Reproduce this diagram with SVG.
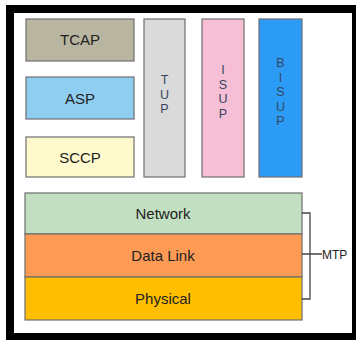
<svg xmlns="http://www.w3.org/2000/svg" width="356" height="340" viewBox="0 0 356 340">
<style>
.box{stroke:#6e6e6e;stroke-width:1.2}
.t{font-family:"Liberation Sans",Arial,sans-serif;font-size:15px;fill:#222;text-anchor:middle}
.v{font-family:"Liberation Sans",Arial,sans-serif;font-size:12.5px;fill:#34475f;text-anchor:middle}
.con{stroke:#444;stroke-width:1.3;fill:none}
</style>
<rect x="0" y="0" width="356" height="340" fill="#fff"/>
<rect x="10" y="9" width="346" height="328" fill="#fff" stroke="#000" stroke-width="8"/>
<g id="tcap"><rect class="box" x="26" y="19" width="108" height="42" fill="#b8b5a1"/><text class="t" x="80" y="45">TCAP</text></g>
<g id="asp"><rect class="box" x="26" y="77" width="108" height="42" fill="#8fcdf1"/><text class="t" x="80" y="104">ASP</text></g>
<g id="sccp"><rect class="box" x="26" y="137" width="108" height="40" fill="#fffacd"/><text class="t" x="80" y="163">SCCP</text></g>
<g id="tup"><rect class="box" x="144" y="19" width="41" height="158" fill="#dadada"/>
<text class="v" x="164.5" y="84">T</text><text class="v" x="164.5" y="98.5">U</text><text class="v" x="164.5" y="113">P</text></g>
<g id="isup"><rect class="box" x="202" y="19" width="42" height="158" fill="#f6bfd6"/>
<text class="v" x="223" y="74">I</text><text class="v" x="223" y="88.5">S</text><text class="v" x="223" y="103">U</text><text class="v" x="223" y="117.5">P</text></g>
<g id="bisup"><rect class="box" x="259" y="19" width="43" height="158" fill="#2b9bf6"/>
<text class="v" x="280.5" y="67">B</text><text class="v" x="280.5" y="81.5">I</text><text class="v" x="280.5" y="96">S</text><text class="v" x="280.5" y="110.5">U</text><text class="v" x="280.5" y="125">P</text></g>
<g id="network"><rect class="box" x="25" y="193" width="277" height="41" fill="#c2dfc2"/><text class="t" x="163" y="219">Network</text></g>
<g id="datalink"><rect class="box" x="25" y="234" width="277" height="43" fill="#fd9b55"/><text class="t" x="163" y="261">Data Link</text></g>
<g id="physical"><rect class="box" x="25" y="277" width="277" height="43" fill="#ffbf00"/><text class="t" x="163" y="304">Physical</text></g>
<g id="connectors">
<path class="con" d="M302 213 H310 V299 H302 M302 254 H322"/>
</g>
<g id="mtp"><text x="322" y="259" style="font-family:'Liberation Sans',Arial,sans-serif;font-size:12px;fill:#222">MTP</text></g>
</svg>
